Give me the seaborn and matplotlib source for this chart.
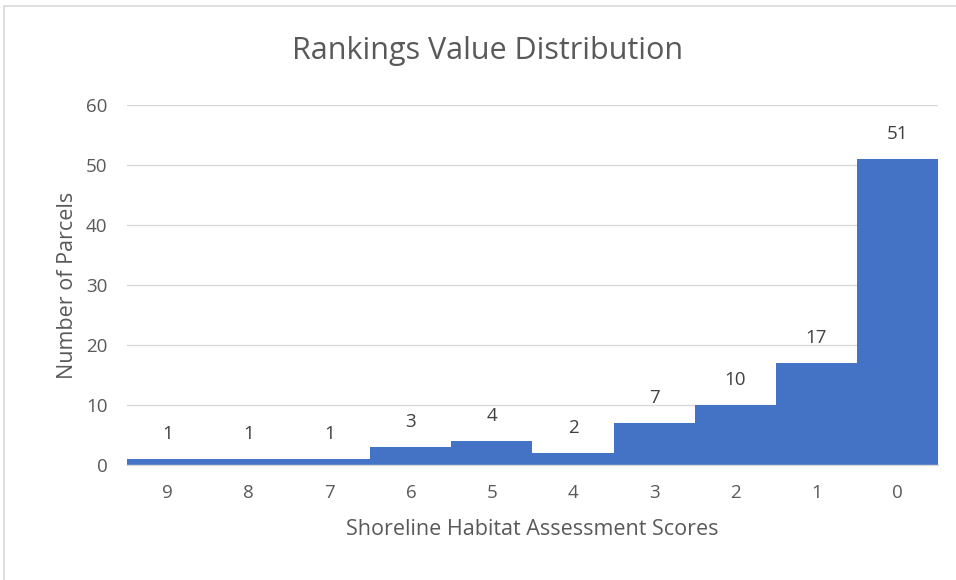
import matplotlib
matplotlib.use("Agg")
import matplotlib.pyplot as plt
import seaborn as sns
import pandas as pd

# Data
scores = ["9", "8", "7", "6", "5", "4", "3", "2", "1", "0"]
parcels = [1, 1, 1, 3, 4, 2, 7, 10, 17, 51]
y_ticks = [0, 10, 20, 30, 40, 50, 60]

BAR_BLUE = "#4472C4"
TEXT_GREY = "#595959"
GRID_GREY = "#D9D9D9"

sns.set_theme(style="white")
plt.rcParams["font.family"] = ["Open Sans", "DejaVu Sans"]

df = pd.DataFrame({"score": scores, "count": parcels})

fig = plt.figure(figsize=(9.56, 5.8), dpi=100)
ax = fig.add_axes([0.1328, 0.1983, 0.8484, 0.6207])

sns.barplot(data=df, x="score", y="count", order=scores, color=BAR_BLUE,
            width=1.0, saturation=1, linewidth=0, ax=ax)

# data labels above each bar
for i, v in enumerate(parcels):
    ax.annotate(f"{v}", (i, v), xytext=(0, 18), textcoords="offset points",
                ha="center", va="center", fontsize=13.5, color="#404040")

ax.set_xlim(-0.5, len(scores) - 0.5)
ax.set_ylim(0, 60)
ax.set_yticks(y_ticks)
ax.yaxis.grid(True, color=GRID_GREY, linewidth=1)
ax.set_axisbelow(True)
for side in ["top", "right", "left"]:
    ax.spines[side].set_visible(False)
ax.spines["bottom"].set_color(GRID_GREY)
ax.spines["bottom"].set_linewidth(1)
ax.tick_params(axis="both", length=0, labelsize=13.5, labelcolor=TEXT_GREY)
ax.tick_params(axis="x", pad=14)
ax.tick_params(axis="y", pad=14)

ax.set_xlabel("Shoreline Habitat Assessment Scores", fontsize=15.5,
              color=TEXT_GREY, labelpad=12)
ax.set_ylabel("Number of Parcels", fontsize=15.5, color=TEXT_GREY, labelpad=6)
fig.text(0.51, 0.912, "Rankings Value Distribution", ha="center", va="center",
         fontsize=22, color=TEXT_GREY)

# light border of the chart area (top and left visible in reference)
fig.add_artist(plt.Line2D([0.0045, 1.0], [0.99, 0.99], color="#D9D9D9",
                          linewidth=1.2, transform=fig.transFigure))
fig.add_artist(plt.Line2D([0.0045, 0.0045], [0.0, 0.99], color="#D9D9D9",
                          linewidth=1.2, transform=fig.transFigure))

fig.savefig("out.png", dpi=100, facecolor="white")
